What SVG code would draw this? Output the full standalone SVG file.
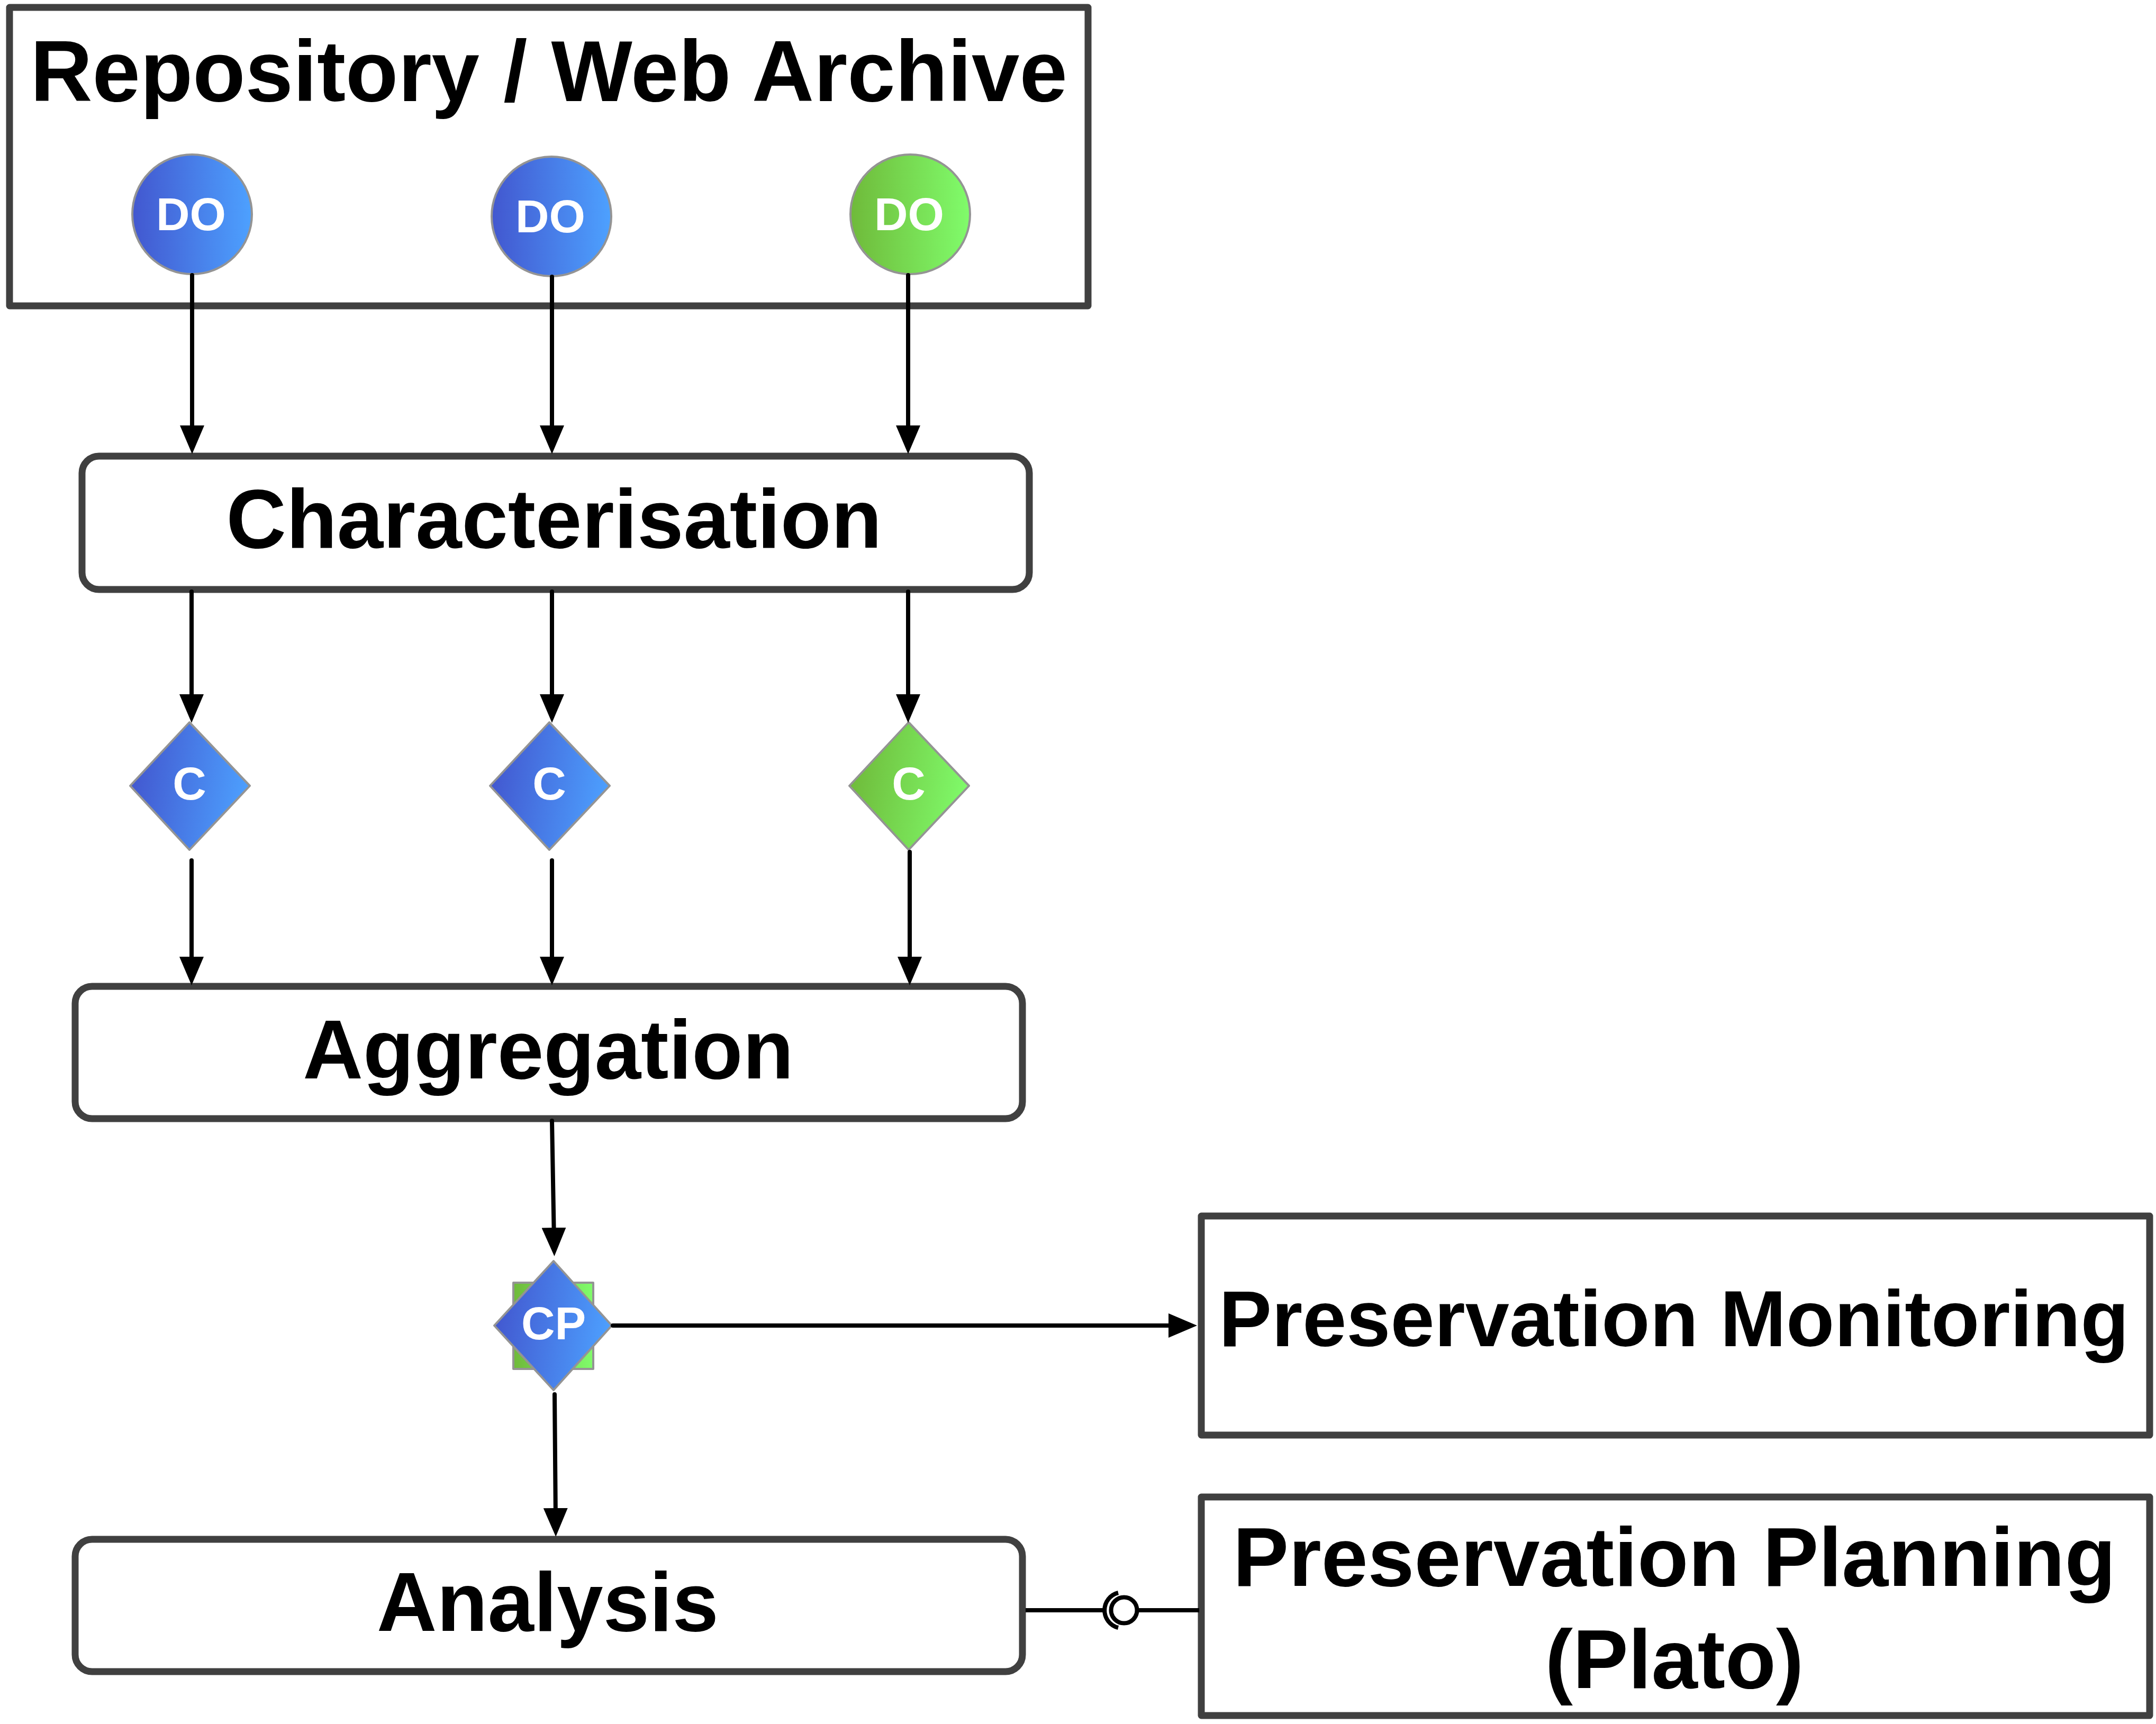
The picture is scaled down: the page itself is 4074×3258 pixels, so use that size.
<svg xmlns="http://www.w3.org/2000/svg" width="4074" height="3258" viewBox="0 0 4074 3258">
<style>
text{font-family:"Liberation Sans",Arial,sans-serif;font-weight:700;text-anchor:middle}
.t{font-size:158px;fill:#000}
.s{font-size:88px;fill:#fff}
.box{fill:#fff;stroke:#404040;stroke-width:13;stroke-linejoin:round}
.sym{stroke:#949494;stroke-width:4;stroke-linejoin:round}
.b{fill:url(#blue)}
.g{fill:url(#green)}
.db{fill:url(#blueD)}
.dg{fill:url(#greenD)}
.c{fill:none;stroke:#000;stroke-width:8;stroke-linecap:round}
.a{marker-end:url(#arrow)}
</style>
<defs>
<linearGradient id="blue" x1="0" y1="0.5" x2="1" y2="0.5"><stop offset="0" stop-color="#4257cf"/><stop offset="1" stop-color="#4da1ff"/></linearGradient>
<linearGradient id="green" x1="0" y1="0.5" x2="1" y2="0.5"><stop offset="0" stop-color="#6fba3a"/><stop offset="1" stop-color="#80fc6b"/></linearGradient>
<linearGradient id="blueD" x1="0" y1="0.42" x2="1" y2="0.58"><stop offset="0" stop-color="#4257cf"/><stop offset="1" stop-color="#4da1ff"/></linearGradient>
<linearGradient id="greenD" x1="0" y1="0.42" x2="1" y2="0.58"><stop offset="0" stop-color="#6fba3a"/><stop offset="1" stop-color="#80fc6b"/></linearGradient>
<marker id="arrow" markerUnits="userSpaceOnUse" markerWidth="56" markerHeight="46" refX="26" refY="23" orient="auto"><path d="M0 0L54 23L0 46Z" fill="#000"/></marker>
</defs>
<rect width="4074" height="3258" fill="#fff"/>
<g id="repository"><rect class="box" x="18" y="14" width="2038" height="564"/><text class="t" style="font-size:162.500px" x="1037" y="191">Repository / Web Archive</text></g>
<g id="do1"><circle class="sym b" cx="363" cy="405" r="113"/><text class="s" x="361" y="435">DO</text></g>
<g id="do2"><circle class="sym b" cx="1042" cy="409" r="113"/><text class="s" x="1040" y="439">DO</text></g>
<g id="do3"><circle class="sym g" cx="1720" cy="405" r="113"/><text class="s" x="1718" y="435">DO</text></g>
<g id="characterisation"><rect class="box" x="155" y="862" width="1790" height="252" rx="32"/><text class="t" style="font-size:157px" x="1047" y="1035">Characterisation</text></g>
<g id="c1"><path class="sym db" d="M358 1365L472 1485L358 1606L246 1485Z"/><text class="s" x="358" y="1511">C</text></g>
<g id="c2"><path class="sym db" d="M1038 1365L1152 1485L1038 1606L926 1485Z"/><text class="s" x="1038" y="1511">C</text></g>
<g id="c3"><path class="sym dg" d="M1717 1365L1831 1485L1717 1606L1605 1485Z"/><text class="s" x="1717" y="1511">C</text></g>
<g id="aggregation"><rect class="box" x="142" y="1864" width="1790" height="250" rx="32"/><text class="t" style="font-size:157.500px" x="1036" y="2038">Aggregation</text></g>
<g id="cp"><rect class="sym g" x="970" y="2424" width="151" height="163"/><path class="sym db" d="M1046 2383L1156 2505L1046 2627L934 2505Z"/><text class="s" x="1046" y="2531">CP</text></g>
<g id="monitoring"><rect class="box" x="2270" y="2298" width="1792" height="414"/><text class="t" style="font-size:149.500px" x="3163" y="2544">Preservation Monitoring</text></g>
<g id="analysis"><rect class="box" x="142" y="2909" width="1790" height="250" rx="32"/><text class="t" style="font-size:157px" x="1035" y="3082">Analysis</text></g>
<g id="planning"><rect class="box" x="2270" y="2829" width="1792" height="413"/><text class="t" x="3164" y="2997">Preservation Planning</text><text class="t" style="font-size:157px" x="3164" y="3190">(Plato)</text></g>
<g id="connectors">
<path class="c a" d="M363 520V830"/>
<path class="c a" d="M1043 523V830"/>
<path class="c a" d="M1716 520V830"/>
<path class="c a" d="M362 1118V1338"/>
<path class="c a" d="M1043 1118V1338"/>
<path class="c a" d="M1716 1118V1338"/>
<path class="c a" d="M362 1626V1834"/>
<path class="c a" d="M1043 1626V1834"/>
<path class="c a" d="M1719 1610V1834"/>
<path class="c a" d="M1043 2118L1047 2346"/>
<path class="c a" d="M1048 2635L1050 2876"/>
<path class="c a" d="M1158 2505H2234"/>
<g id="interface">
<path class="c" style="stroke-linecap:butt" d="M1938 3043H2086M2152 3043H2266"/>
<circle cx="2124" cy="3043" r="24.500" fill="#fff" stroke="#000" stroke-width="8"/>
<path class="c" style="stroke-linecap:butt" d="M2113 3010A34 34 0 0 0 2113 3076"/>
</g>
</g>
</svg>
